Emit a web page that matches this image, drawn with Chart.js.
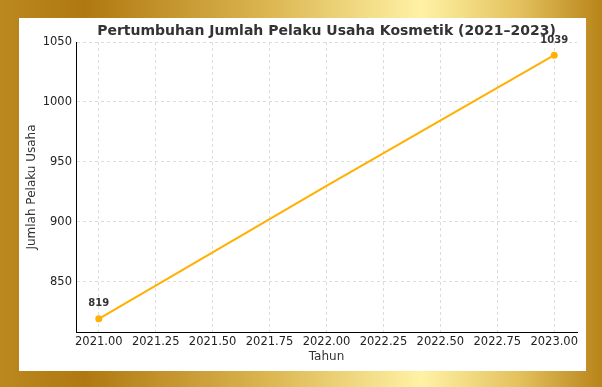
<!DOCTYPE html>
<html>
<head>
<meta charset="utf-8">
<script src="https://cdn.jsdelivr.net/npm/chart.js@4.4.1/dist/chart.umd.min.js"></script>
<style>
  html, body { margin: 0; padding: 0; }
  #wrap { width: 602px; height: 387px; }
</style>
</head>
<body>
<div id="wrap"><canvas id="chart" width="602" height="387"></canvas></div>
<script>
// data
const years = [2021, 2022, 2023];
const pelaku = [819, 930, 1039];
const markedPoints = [0, 2]; // only the end points carry a marker and label
const xTicks = [2021, 2021.25, 2021.5, 2021.75, 2022, 2022.25, 2022.5, 2022.75, 2023];
const yTicks = [850, 900, 950, 1000, 1050];

const FONT = "'DejaVu Sans', sans-serif";
const LINE = "#FFB000";

// gold frame + white panel behind the chart
const backdrop = {
  id: "backdrop",
  beforeDraw(chart) {
    const { ctx, width, height } = chart;
    const g = ctx.createLinearGradient(0, 0, width, 0);
    g.addColorStop(0, "#bb8820");
    g.addColorStop(0.14, "#b07810");
    g.addColorStop(0.45, "#dcb752");
    g.addColorStop(0.7, "#fff2a5");
    g.addColorStop(0.86, "#e4c25e");
    g.addColorStop(1, "#b8841a");
    ctx.save();
    ctx.fillStyle = g;
    ctx.fillRect(0, 0, width, height);
    ctx.fillStyle = "#ffffff";
    ctx.fillRect(19, 18, 567, 353);
    ctx.restore();
  },
};

// value text above the marked points
const valueLabels = {
  id: "valueLabels",
  afterDatasetsDraw(chart) {
    const { ctx } = chart;
    const meta = chart.getDatasetMeta(0);
    ctx.save();
    ctx.font = "bold 10px " + FONT;
    ctx.fillStyle = "#333";
    ctx.textAlign = "center";
    ctx.textBaseline = "middle";
    markedPoints.forEach((i) => {
      const pt = meta.data[i];
      ctx.fillText(String(pelaku[i]), pt.x, pt.y - 15);
    });
    ctx.restore();
  },
};

new Chart(document.getElementById("chart"), {
  type: "line",
  data: {
    datasets: [
      {
        data: years.map((y, i) => ({ x: y, y: pelaku[i] })),
        borderColor: LINE,
        backgroundColor: LINE,
        borderWidth: 2,
        tension: 0,
        pointRadius: years.map((_, i) => (markedPoints.includes(i) ? 3.5 : 0)),
        pointHoverRadius: 0,
        pointBorderWidth: 0,
      },
    ],
  },
  options: {
    responsive: false,
    animation: false,
    layout: { padding: { top: 0, left: 0, right: 25, bottom: 0 } },
    plugins: {
      legend: { display: false },
      tooltip: { enabled: false },
      title: {
        display: true,
        text: "Pertumbuhan Jumlah Pelaku Usaha Kosmetik (2021–2023)",
        color: "#333",
        font: { family: FONT, size: 14, weight: "bold" },
        padding: { top: 22.6, bottom: 2.6 },
        fullSize: false,
      },
    },
    scales: {
      x: {
        type: "linear",
        min: 2020.9,
        max: 2023.1,
        afterBuildTicks: (s) => { s.ticks = xTicks.map((v) => ({ value: v })); },
        afterFit: (s) => { s.height = 55; },
        ticks: {
          callback: (v) => Number(v).toFixed(2),
          color: "#222",
          font: { family: FONT, size: 11.5 },
          padding: 3,
          maxRotation: 0,
          autoSkip: false,
        },
        grid: { color: "#dcdcdc", drawTicks: false },
        border: { display: true, color: "#000", width: 1, dash: [3, 3] },
        title: {
          display: true,
          text: "Tahun",
          color: "#333",
          font: { family: FONT, size: 12 },
          padding: { top: 0, bottom: 23 },
        },
      },
      y: {
        min: 808,
        max: 1050,
        afterBuildTicks: (s) => { s.ticks = yTicks.map((v) => ({ value: v })); },
        afterFit: (s) => { s.width = 76; },
        ticks: {
          callback: (v) => String(v),
          color: "#222",
          font: { family: FONT, size: 11.5 },
          padding: 4,
        },
        grid: { color: "#dcdcdc", drawTicks: false },
        border: { display: true, color: "#000", width: 1, dash: [3, 3] },
        title: {
          display: true,
          text: "Jumlah Pelaku Usaha",
          color: "#333",
          font: { family: FONT, size: 12 },
          padding: { top: 25, bottom: 0 },
        },
      },
    },
  },
  plugins: [backdrop, valueLabels],
});
</script>
</body>
</html>
